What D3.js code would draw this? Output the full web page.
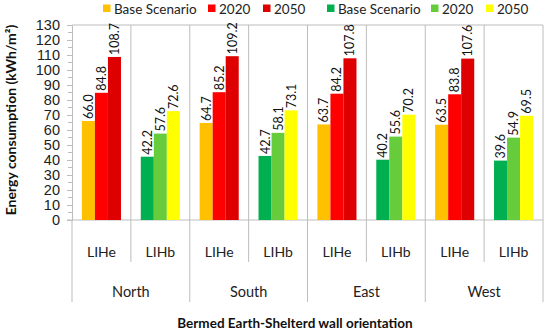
<!DOCTYPE html>
<html>
<head>
<meta charset="utf-8">
<script src="https://cdn.jsdelivr.net/npm/d3@7"></script>
<style>
  body { margin: 0; background: #fff; }
  svg { font-family: "Lato", "Liberation Sans", sans-serif; }
</style>
</head>
<body>
<div class="chart"></div>
<script>
// data
var orientations = ["North", "South", "East", "West"];
var buildings = ["LIHe", "LIHb"];
var liheBase = [66.0, 64.7, 63.7, 63.5];
var lihe2020 = [84.8, 85.2, 84.2, 83.8];
var lihe2050 = [108.7, 109.2, 107.8, 107.6];
var lihbBase = [42.2, 42.7, 40.2, 39.6];
var lihb2020 = [57.6, 58.1, 55.6, 54.9];
var lihb2050 = [72.6, 73.1, 70.2, 69.5];
var yTicks = d3.range(0, 131, 10);
var legendLabels = ["Base Scenario", "2020", "2050", "Base Scenario", "2020", "2050"];

var liheColors = ["#FFC000", "#FF0000", "#DE0000"];
var lihbColors = ["#00B050", "#66CC3C", "#FFFF00"];

var margin = { top: 25, right: 7, bottom: 115, left: 72 },
  width = 550 - margin.left - margin.right,
  height = 335 - margin.top - margin.bottom;

var svg = d3.select(".chart").append("svg")
  .attr("width", 550)
  .attr("height", 335);

var g = svg.append("g")
  .attr("transform", "translate(" + margin.left + "," + margin.top + ")");

// one slot per orientation x building
var slots = [];
orientations.forEach(function (o, i) {
  slots.push({ key: o + "-LIHe", orient: o, type: "LIHe", values: [liheBase[i], lihe2020[i], lihe2050[i]], colors: liheColors });
  slots.push({ key: o + "-LIHb", orient: o, type: "LIHb", values: [lihbBase[i], lihb2020[i], lihb2050[i]], colors: lihbColors });
});

var x0 = d3.scaleBand()
  .domain(slots.map(function (d) { return d.key; }))
  .range([0, width]);

var x1 = d3.scaleBand()
  .domain([0, 1, 2])
  .range([0, x0.bandwidth()])
  .paddingInner(0)
  .paddingOuter(0.76);

var y = d3.scaleLinear()
  .domain([0, 130])
  .range([height, 0]);

var gridColor = "#bdbdbd";

// plot border (top + right) and slot separators
g.append("line").attr("x1", 0).attr("x2", width).attr("y1", 0).attr("y2", 0).attr("stroke", gridColor);
slots.forEach(function (d, i) {
  var xr = x0(d.key) + x0.bandwidth();
  var isGroupEnd = i % 2 == 1;
  g.append("line")
    .attr("x1", xr).attr("x2", xr)
    .attr("y1", 0)
    .attr("y2", isGroupEnd ? height + 82 : height + 42)
    .attr("stroke", gridColor);
});
// left edge continues below the axis
g.append("line").attr("x1", 0).attr("x2", 0).attr("y1", height).attr("y2", height + 82).attr("stroke", gridColor);

// y axis
var yAxis = g.append("g")
  .attr("class", "axis axis--y")
  .call(d3.axisLeft(y).tickValues(yTicks).tickSize(5).tickPadding(7).tickFormat(d3.format("d")));
yAxis.select(".domain").attr("stroke", gridColor);
yAxis.selectAll(".tick line").attr("stroke", gridColor);
yAxis.selectAll("text").attr("font-size", 14.5).attr("fill", "#222");

g.selectAll(".minor")
  .data(d3.range(5, 130, 10))
  .enter().append("line")
  .attr("x1", -4).attr("x2", 0)
  .attr("y1", function (d) { return y(d); })
  .attr("y2", function (d) { return y(d); })
  .attr("stroke", gridColor);

// zero line
g.append("line").attr("x1", -5).attr("x2", width).attr("y1", y(0)).attr("y2", y(0)).attr("stroke", gridColor);

// bars
var slotG = g.selectAll(".slot")
  .data(slots)
  .enter().append("g")
  .attr("class", "slot")
  .attr("transform", function (d) { return "translate(" + x0(d.key) + ",0)"; });

slotG.selectAll(".bar")
  .data(function (d) { return d.values.map(function (v, i) { return { v: v, i: i, c: d.colors[i] }; }); })
  .enter().append("rect")
  .attr("class", "bar")
  .attr("x", function (d) { return x1(d.i); })
  .attr("width", x1.bandwidth())
  .attr("y", function (d) { return y(d.v); })
  .attr("height", function (d) { return y(0) - y(d.v); })
  .attr("fill", function (d) { return d.c; });

slotG.selectAll(".val")
  .data(function (d) { return d.values.map(function (v, i) { return { v: v, i: i }; }); })
  .enter().append("text")
  .attr("class", "val")
  .attr("transform", function (d) {
    return "translate(" + (x1(d.i) + x1.bandwidth() / 2 + 4.5) + "," + (y(d.v) - 2) + ") rotate(-90)";
  })
  .attr("font-size", 12.5)
  .attr("fill", "#111")
  .text(function (d) { return d3.format(".1f")(d.v); });

// category labels
g.selectAll(".typeLabel")
  .data(slots)
  .enter().append("text")
  .attr("x", function (d) { return x0(d.key) + x0.bandwidth() / 2; })
  .attr("y", height + 37)
  .attr("text-anchor", "middle")
  .attr("font-size", 14)
  .attr("fill", "#222")
  .text(function (d) { return d.type; });

g.selectAll(".orientLabel")
  .data(orientations)
  .enter().append("text")
  .attr("x", function (d) { return x0(d + "-LIHe") + x0.bandwidth(); })
  .attr("y", height + 77)
  .attr("text-anchor", "middle")
  .attr("font-size", 14.5)
  .attr("fill", "#222")
  .text(function (d) { return d; });

// axis titles
svg.append("text")
  .attr("x", 295)
  .attr("y", 328)
  .attr("text-anchor", "middle")
  .attr("font-size", 13.5)
  .attr("font-weight", "bold")
  .attr("fill", "#111")
  .text("Bermed Earth-Shelterd wall orientation");

svg.append("text")
  .attr("transform", "translate(16,120) rotate(-90)")
  .attr("text-anchor", "middle")
  .attr("font-size", 14)
  .attr("font-weight", "bold")
  .attr("fill", "#111")
  .text("Energy consumption (kWh/m²)");

// legend
var legendX = [103, 208, 263, 327, 431, 486];
var legendColors = liheColors.concat(lihbColors);
var leg = svg.selectAll(".legend")
  .data(legendLabels)
  .enter().append("g")
  .attr("class", "legend")
  .attr("transform", function (d, i) { return "translate(" + legendX[i] + ",0)"; });
leg.append("rect")
  .attr("x", 0).attr("y", 4.5).attr("width", 7.5).attr("height", 7.5)
  .attr("fill", function (d, i) { return legendColors[i]; });
leg.append("text")
  .attr("x", 11).attr("y", 13.5)
  .attr("font-size", 13.5)
  .attr("fill", "#222")
  .text(function (d) { return d; });
</script>
</body>
</html>
